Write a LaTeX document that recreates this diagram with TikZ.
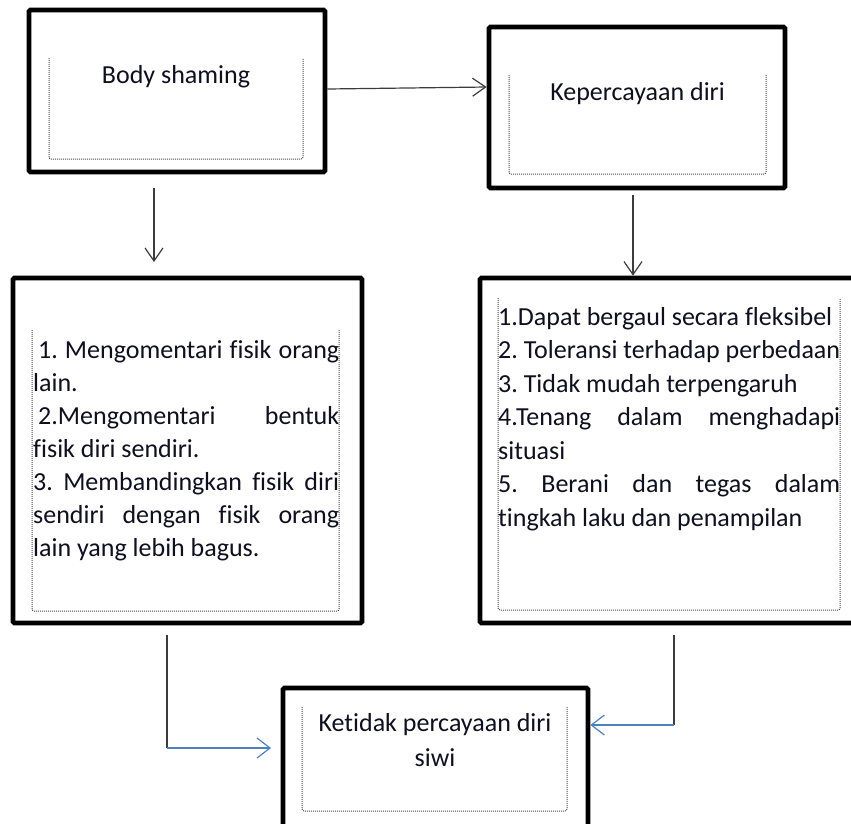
\documentclass[tikz,border=0pt]{standalone}
\usepackage{fontspec}
\setmainfont{Carlito}[Ligatures=NoCommon]
\usetikzlibrary{arrows.meta}
\definecolor{linkblue}{RGB}{79,129,189}
\definecolor{darkline}{RGB}{60,60,60}
\definecolor{txtc}{RGB}{15,15,30}
\begin{document}
\frenchspacing
\begin{tikzpicture}[x=1pt,y=-1pt,
  box/.style={draw, line width=4.8pt, rounded corners=1.5pt, inner sep=0pt},
  dotbox/.style={draw=black!70, line width=1pt, dash pattern=on 1pt off 1pt, rounded corners=2pt},
  txt/.style={inner sep=0pt, text=txtc, font=\fontsize{26}{33.5}\selectfont\frenchspacing},
  arr/.style={draw=darkline, line width=1.2pt, -{Straight Barb[length=13pt,width=18pt]}},
  barr/.style={draw=linkblue, line width=1.2pt, -{Straight Barb[length=13pt,width=20pt]}},
  seg/.style={draw=darkline, line width=1.3pt}]
\clip (0,0) rectangle (851,823);
\fill[white] (0,0) rectangle (851,823);

% outer boxes
\node[box, minimum width=296pt, minimum height=162pt] (bs) at (177,91) {};
\node[box, minimum width=296pt, minimum height=161pt] (kd) at (637,107.5) {};
\node[box, minimum width=349pt, minimum height=345pt] (ls) at (187.5,450.5) {};
\node[box, minimum width=380pt, minimum height=345pt] (rs) at (670,450.5) {};
\node[box, minimum width=305pt, minimum height=147pt] (kt) at (435.5,761.5) {};

% inner dotted frames (open at top)
\draw[dotbox] (49,58) -- (49,159) -- (303,159) -- (303,58);
\draw[dotbox] (509,75) -- (509,174) -- (766,174) -- (766,75);
\draw[dotbox] (32,330) -- (32,611) -- (339,611) -- (339,330);
\draw[dotbox] (498,298) -- (498,610) -- (840,610) -- (840,298);
\draw[dotbox] (302,707) -- (302,811) -- (567,811) -- (567,707);

% titles
\node[txt, anchor=base] (t1) at (176,83) {Body shaming};
\node[txt, anchor=base] (t2) at (637.5,100) {Kepercayaan diri};
\node[txt, anchor=base] (t3) at (435,731) {Ketidak percayaan diri};
\node[txt, anchor=base] (t4) at (435,766) {siwi};

% left list
\node[txt, anchor=base west] (l1) at (33,358) {\makebox[306pt][s]{\hspace{5pt}1. Mengomentari fisik orang}};
\node[txt, anchor=base west] (l2) at (33,391) {lain.};
\node[txt, anchor=base west] (l3) at (33,424) {\makebox[306pt][s]{\hspace{5pt}2.Mengomentari bentuk}};
\node[txt, anchor=base west] (l4) at (33,457) {fisik diri sendiri.};
\node[txt, anchor=base west] (l5) at (33,490) {\makebox[306pt][s]{3. Membandingkan fisik diri}};
\node[txt, anchor=base west] (l6) at (33,523) {\makebox[306pt][s]{sendiri dengan fisik orang}};
\node[txt, anchor=base west] (l7) at (33,556) {lain yang lebih bagus.};

% right list
\node[txt, anchor=base west] (r1) at (498,325) {1.Dapat bergaul secara fleksibel};
\node[txt, anchor=base west] (r2) at (498,358.5) {2. Toleransi terhadap perbedaan};
\node[txt, anchor=base west] (r3) at (498,392) {3. Tidak mudah terpengaruh};
\node[txt, anchor=base west] (r4) at (498,425.5) {\makebox[342pt][s]{4.Tenang dalam menghadapi}};
\node[txt, anchor=base west] (r5) at (498,459) {situasi};
\node[txt, anchor=base west] (r6) at (498,492.5) {\makebox[342pt][s]{5. Berani dan tegas dalam}};
\node[txt, anchor=base west] (r7) at (498,526) {tingkah laku dan penampilan};

% connectors
\draw[arr] ([yshift=2pt]bs.east) -- ([yshift=20.5pt]kd.west);
\coordinate (d1a) at (154,188);
\coordinate (d1b) at (154,262);
\draw[arr] (d1a) -- (d1b);
\coordinate (d2a) at (633,195);
\draw[arr] (d2a) -- (d2a |- rs.north);

\coordinate (c1) at (167,635);
\coordinate (c1b) at (167,748);
\coordinate (c1t) at (271,748);
\draw[seg] (c1) -- (c1b);
\draw[barr] (c1b) -- (c1t);

\coordinate (c2) at (674,635);
\coordinate (c2b) at (674,725);
\draw[seg] (c2) -- (c2b);
\draw[barr] (c2b) -- (c2b -| kt.east);
\end{tikzpicture}
\end{document}
